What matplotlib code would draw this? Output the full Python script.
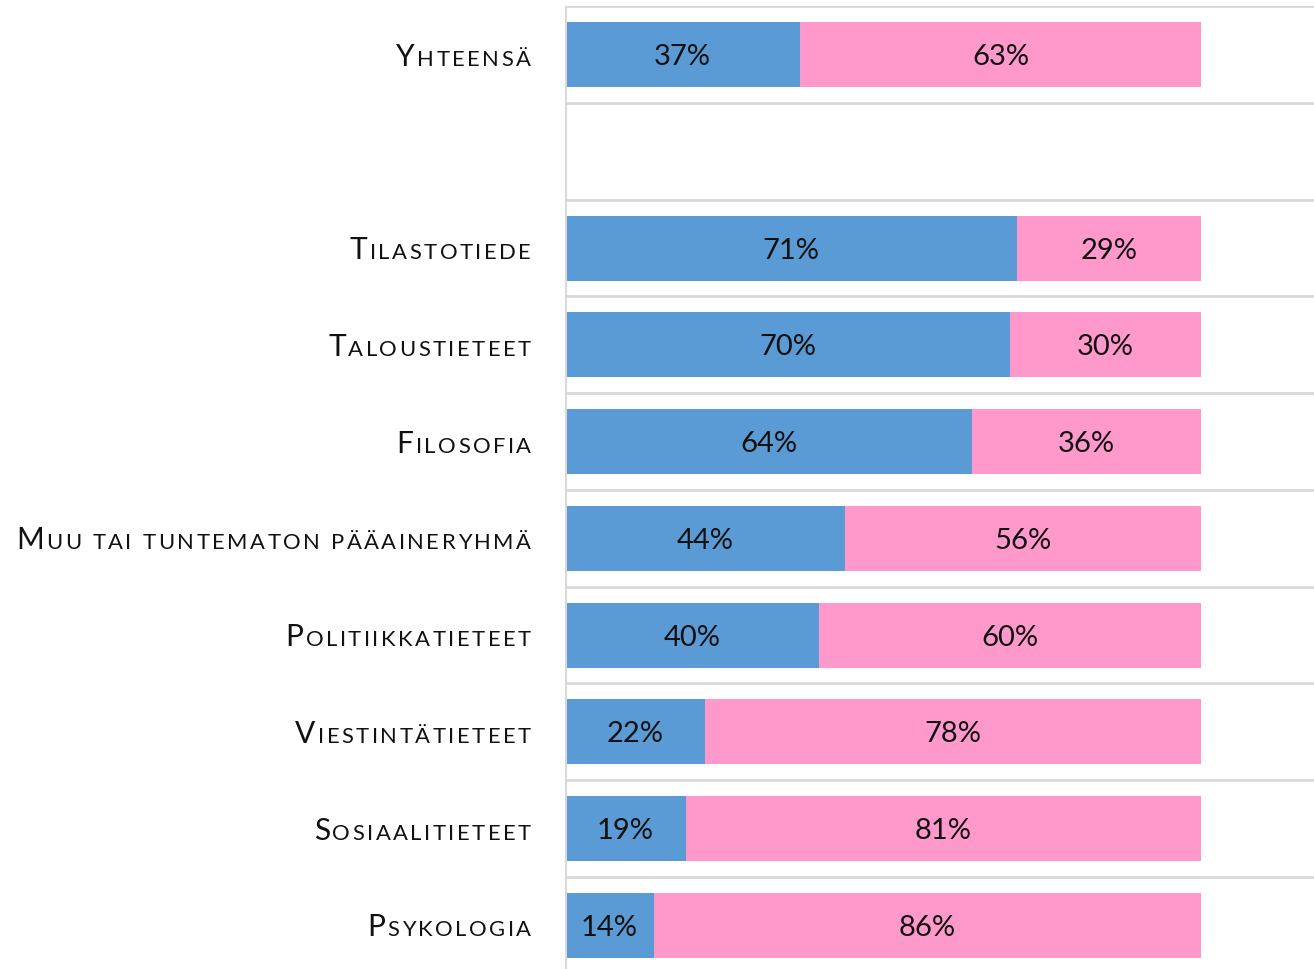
import matplotlib
matplotlib.use("Agg")
import matplotlib.pyplot as plt
from matplotlib.font_manager import FontProperties
from matplotlib.transforms import IdentityTransform, ScaledTranslation

categories = ["Yhteensä", "", "Tilastotiede", "Taloustieteet", "Filosofia",
              "Muu tai tuntematon pääaineryhmä", "Politiikkatieteet",
              "Viestintätieteet", "Sosiaalitieteet", "Psykologia"]
blue_vals = [37, None, 71, 70, 64, 44, 40, 22, 19, 14]
pink_vals = [63, None, 29, 30, 36, 56, 60, 78, 81, 86]

BLUE = "#5B9BD5"
PINK = "#FF99CC"
GRID = "#D9D9D9"
FONT = "Lato"

fig = plt.figure(figsize=(13.14, 9.69), dpi=100)
ax = fig.add_axes([565 / 1314, -4.75 / 969, 749 / 1314, (969 - 6.25 + 4.75) / 969])

# percent labels: baseline shifted down so digits sit centred on the bar
pct_tr = ax.transData + ScaledTranslation(0, -0.105, fig.dpi_scale_trans)

for i, (b, p) in enumerate(zip(blue_vals, pink_vals)):
    if b is None:
        continue
    ax.barh(i, b, height=0.67, color=BLUE, edgecolor="none")
    ax.barh(i, p, left=b, height=0.67, color=PINK, edgecolor="none")
    ax.text(b / 2, i, f"{b}%", ha="center", va="baseline", fontsize=21,
            family=FONT, color="#111111", transform=pct_tr)
    ax.text(b + p / 2, i, f"{p}%", ha="center", va="baseline", fontsize=21,
            family=FONT, color="#111111", transform=pct_tr)

ax.set_ylim(len(categories) - 0.5, -0.5)
ax.set_xlim(0, 100 * 749 / 636)
for k in range(len(categories)):
    ax.axhline(k - 0.5, color=GRID, lw=2, zorder=0)
ax.axvline(0, color=GRID, lw=2.2, zorder=3)
for s in ax.spines.values():
    s.set_visible(False)
ax.set_xticks([])
ax.set_yticks([])

# small caps labels with letter spacing, drawn char by char
fig.canvas.draw()
renderer = fig.canvas.get_renderer()
big = FontProperties(family=FONT, size=21.5)
small = FontProperties(family=FONT, size=15.8)
tracking = 2.5
x_right = ax.transAxes.transform((0, 0))[0] - 34

for i, label in enumerate(categories):
    if not label:
        continue
    yc = ax.transData.transform((0, i))[1]
    base = yc - 11
    x = x_right
    for ch in reversed(label):
        prop = big if ch.isupper() else small
        c = ch.upper()
        if c == " ":
            w = prop.get_size_in_points() * 100 / 72 * 0.28
        else:
            w = renderer.get_text_width_height_descent(c, prop, ismath=False)[0]
            fig.text(x, base, c, fontproperties=prop, ha="right", va="baseline",
                     color="#111111", transform=IdentityTransform())
        x -= w + tracking

fig.savefig("out.png", dpi=100)
